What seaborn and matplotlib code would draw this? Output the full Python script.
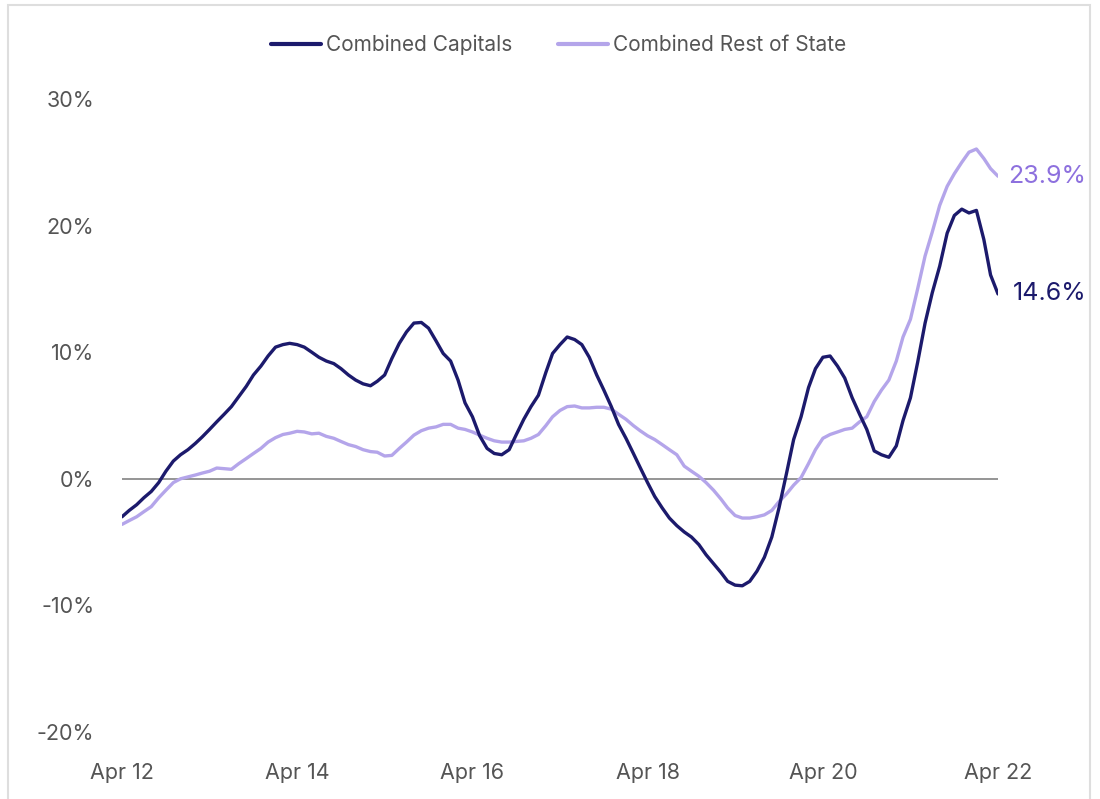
import numpy as np
import pandas as pd
import matplotlib
matplotlib.use("Agg")
import matplotlib.pyplot as plt
import seaborn as sns
from matplotlib.patches import Rectangle
from matplotlib.lines import Line2D

# ---- data (monthly, Apr 2012 .. Apr 2022) ----
capitals = [
    -3.0, -2.5, -2.05, -1.5, -1.0, -0.3, 0.6, 1.4, 1.9, 2.3,
    2.8, 3.3, 3.9, 4.5, 5.1, 5.7, 6.5, 7.3, 8.2, 8.9,
    9.7, 10.4, 10.6, 10.7, 10.6, 10.4, 10.0, 9.6, 9.3, 9.1,
    8.7, 8.2, 7.8, 7.5, 7.35, 7.7, 8.2, 9.5, 10.7, 11.6,
    12.3, 12.35, 11.9, 10.9, 9.9, 9.3, 7.8, 6.0, 4.9, 3.4,
    2.4, 2.0, 1.9, 2.3, 3.5, 4.7, 5.7, 6.6, 8.4, 9.9,
    10.6, 11.2, 11.0, 10.6, 9.6, 8.2, 7.0, 5.7, 4.3, 3.2,
    2.0, 0.9, -0.3, -1.4, -2.3, -3.1, -3.7, -4.2, -4.6, -5.2,
    -6.0, -6.7, -7.4, -8.1, -8.4, -8.45, -8.1, -7.3, -6.2, -4.6,
    -2.3, 0.4, 3.1, 4.9, 7.2, 8.7, 9.6, 9.7, 8.9, 7.96,
    6.4, 5.1, 3.9, 2.2, 1.9, 1.7, 2.6, 4.6, 6.4, 9.2,
    12.3, 14.7, 16.8, 19.4, 20.8, 21.3, 21.0, 21.2, 18.9, 16.1,
    14.6,
]
rest_of_state = [
    -3.6, -3.3, -3.0, -2.6, -2.2, -1.5, -0.9, -0.3, 0.0, 0.15,
    0.3, 0.45, 0.6, 0.85, 0.8, 0.75, 1.2, 1.6, 2.0, 2.4,
    2.9, 3.25, 3.5, 3.6, 3.75, 3.7, 3.55, 3.6, 3.35, 3.2,
    2.95, 2.7, 2.55, 2.3, 2.15, 2.1, 1.8, 1.85, 2.4, 2.9,
    3.45, 3.8, 4.0, 4.1, 4.3, 4.3, 4.0, 3.9, 3.7, 3.45,
    3.2, 3.0, 2.9, 2.9, 2.95, 3.0, 3.2, 3.5, 4.2, 4.9,
    5.4, 5.7, 5.75, 5.6, 5.6, 5.65, 5.65, 5.5, 5.1, 4.7,
    4.2, 3.8, 3.4, 3.1, 2.7, 2.3, 1.9, 1.0, 0.6, 0.2,
    -0.3, -0.9, -1.6, -2.3, -2.9, -3.1, -3.1, -3.0, -2.85, -2.5,
    -1.8, -1.2, -0.5, 0.1, 1.2, 2.3, 3.2, 3.5, 3.7, 3.9,
    4.0, 4.5, 4.9, 6.1, 7.0, 7.8, 9.3, 11.2, 12.6, 15.0,
    17.6, 19.5, 21.6, 23.1, 24.1, 25.0, 25.8, 26.05, 25.3, 24.5,
    23.9,
]
series_names = ["Combined Capitals", "Combined Rest of State"]
x_tick_labels = ["Apr 12", "Apr 14", "Apr 16", "Apr 18", "Apr 20", "Apr 22"]
y_ticks = [-20, -10, 0, 10, 20, 30]
end_labels = ["14.6%", "23.9%"]

dates = pd.date_range("2012-04-01", periods=len(capitals), freq="MS")
df = pd.concat([
    pd.DataFrame({"date": dates, "value": capitals, "series": series_names[0]}),
    pd.DataFrame({"date": dates, "value": rest_of_state, "series": series_names[1]}),
])

navy = "#1c1a6c"
lavender = "#b4a5ea"
label_purple = "#8d70de"

sns.set_theme(style="white")
plt.rcParams["font.family"] = ["Inter", "DejaVu Sans"]

fig = plt.figure(figsize=(11, 7.99), dpi=100)
ax = fig.add_axes([122 / 1100, 1 - 732 / 799, (998 - 122) / 1100, (732 - 99) / 799])

# zero line
ax.axhline(0, color="#8c8c8c", lw=1.3, zorder=1)

sns.lineplot(data=df, x="date", y="value", hue="series",
             palette={series_names[0]: navy, series_names[1]: lavender},
             hue_order=[series_names[1], series_names[0]],
             linewidth=2.4, ax=ax, legend=False, zorder=3)

ax.set_xlim(dates[0], dates[-1])
ax.set_ylim(-20, 30)
ax.set_yticks(y_ticks)
ax.set_yticklabels([f"{v}%" for v in y_ticks])
tick_dates = [dates[i] for i in range(0, len(dates), 24)]
ax.set_xticks(tick_dates)
ax.set_xticklabels(x_tick_labels)
ax.set_xlabel("")
ax.set_ylabel("")
for s in ax.spines.values():
    s.set_visible(False)
ax.tick_params(axis="both", length=0, labelsize=15.5, labelcolor="#555555")
ax.tick_params(axis="y", pad=20)
ax.tick_params(axis="x", pad=22)

# end labels
ax.annotate(end_labels[0], xy=(dates[-1], capitals[-1]), xytext=(11, 0),
            textcoords="offset points", va="center", ha="left",
            fontsize=18, color=navy, annotation_clip=False)
ax.annotate(end_labels[1], xy=(dates[-1], rest_of_state[-1]), xytext=(7, 0),
            textcoords="offset points", va="center", ha="left",
            fontsize=18, color=label_purple, annotation_clip=False)

# legend
handles = [Line2D([0], [0], color=navy, lw=3), Line2D([0], [0], color=lavender, lw=3)]
fig.legend(handles, series_names, loc="center", bbox_to_anchor=(0.508, 1 - 45 / 799),
           ncol=2, frameon=False, fontsize=15, handlelength=2.4, handletextpad=0.25,
           columnspacing=2.2, labelcolor="#555555")

# outer border
fig.patches.append(Rectangle((8 / 1100, -0.02), 1082 / 1100, 1 - 5 / 799 + 0.02,
                             transform=fig.transFigure, fill=False,
                             edgecolor="#dedede", lw=1.5))

fig.savefig("out.png", dpi=100)
